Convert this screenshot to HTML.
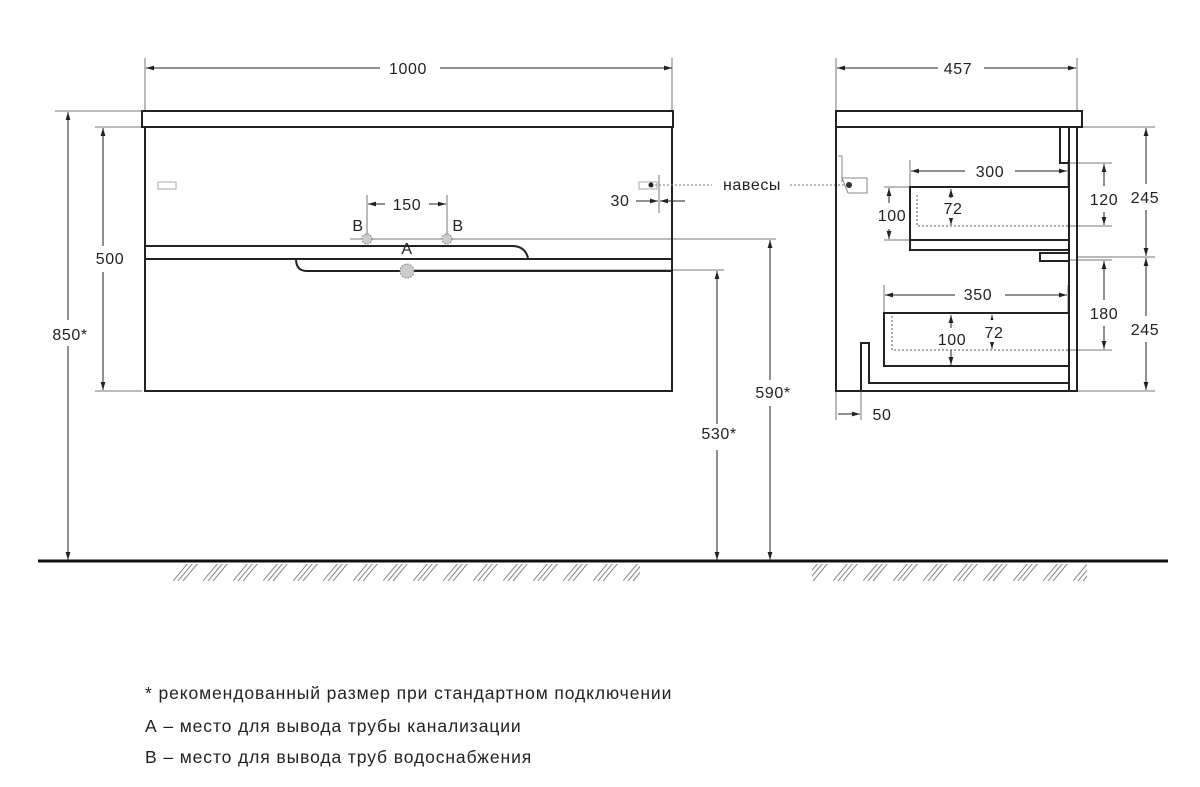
<!DOCTYPE html>
<html><head><meta charset="utf-8"><style>
html,body{margin:0;padding:0;background:#fff;}
svg{display:block;}
text{font-family:"Liberation Sans",sans-serif;fill:#222;}
</style></head><body>
<svg width="1200" height="787" viewBox="0 0 1200 787" xmlns="http://www.w3.org/2000/svg">
<defs>
<marker id="a" viewBox="0 0 10 10" refX="10" refY="5" markerWidth="8" markerHeight="8" orient="auto-start-reverse"><path d="M0,2 L10,5 L0,8z" fill="#222"/></marker>
<pattern id="h" x="173" y="563" width="30" height="18" patternUnits="userSpaceOnUse">
<path d="M15,0 L0,18 M20,0 L5,18 M25,0 L10,18" stroke="#888" stroke-width="1"/>
</pattern>
</defs>
<g fill="none" stroke="#777" stroke-width="1">
<path d="M145,58V111 M672,58V111 M836,58V111 M1077,58V111"/>
<path d="M55,111H142 M95,127H142 M95,391H142"/>
<path d="M350,239H776 M410,270H724"/>
<path d="M367,195V239 M447,195V239"/>
<path d="M659,175V213"/>
<path d="M1077,127H1155 M1077,257H1155 M1077,391H1155 M1070,163H1112 M1070,226H1112 M1070,260H1112 M1070,350H1112"/>
<path d="M884,187H910 M884,240H910"/>
<path d="M910,160V187 M1068,160V187 M884,285V313 M1068,285V313"/>
<path d="M836,391V420 M861,383V420"/>
</g>
<g fill="none" stroke="#222" stroke-width="1" marker-start="url(#a)" marker-end="url(#a)">
<path d="M146,68H672"/>
<path d="M68,112V560"/>
<path d="M103,128V390"/>
<path d="M770,240V560"/>
<path d="M717,271V560"/>
<path d="M368,204H446"/>
<path d="M837,68H1076"/>
<path d="M911,171H1067"/>
<path d="M885,295H1067"/>
<path d="M889,188V239"/>
<path d="M951,189V225"/>
<path d="M1104,164V225"/>
<path d="M1146,128V256"/>
<path d="M1146,258V390"/>
<path d="M1104,261V349"/>
<path d="M951,315V365"/>
<path d="M992,315V349"/>
</g>
<g fill="none" stroke="#222" stroke-width="1" marker-end="url(#a)">
<path d="M636,201H658"/><path d="M685,201H660"/>
<path d="M838,414H860"/>
</g>
<g fill="#fff">
<rect x="380" y="58" width="60" height="20"/><rect x="938" y="58" width="46" height="20"/>
<rect x="385" y="194" width="44" height="20"/><rect x="58" y="320" width="44" height="26"/>
<rect x="90" y="246" width="40" height="26"/><rect x="750" y="380" width="50" height="26"/>
<rect x="697" y="424" width="46" height="26"/>
<rect x="965" y="161" width="50" height="20"/><rect x="955" y="285" width="50" height="20"/>
<rect x="1088" y="186" width="34" height="26"/><rect x="1126" y="184" width="38" height="26"/>
<rect x="1126" y="316" width="38" height="26"/><rect x="1088" y="300" width="34" height="26"/>
<rect x="875" y="203" width="34" height="26"/><rect x="940" y="198" width="26" height="20"/>
<rect x="934" y="328" width="36" height="22"/><rect x="983" y="320" width="24" height="22"/>
</g>
<g fill="none" stroke="#222" stroke-width="2">
<rect x="142" y="111" width="531" height="16"/>
<rect x="145" y="127" width="527" height="264"/>
<path d="M145,246H512Q525,246 528,258"/>
<path d="M145,259H672"/>
<path d="M296,259Q296,271 307,271H672"/>
</g>
<g stroke="#777" stroke-dasharray="1.5,1.5" fill="#ccc">
<circle cx="367" cy="239" r="5"/><circle cx="447" cy="239" r="5"/><circle cx="407" cy="271" r="7"/>
</g>
<g fill="none" stroke="#aaa">
<rect x="158" y="182" width="18" height="7"/><rect x="639" y="182" width="18" height="7"/>
</g>
<circle cx="651" cy="185" r="2.5" fill="#222"/>
<path d="M655,185H712 M790,185H848" stroke="#777" stroke-dasharray="2,2"/>
<g fill="none" stroke="#222" stroke-width="2">
<rect x="836" y="111" width="246" height="16"/>
<path d="M836,127V391H1077V127"/>
<path d="M1069,127V391"/>
<path d="M1060,127V163H1069"/>
<path d="M1068,187H910V250H1068"/>
<path d="M1068,240H910"/>
<path d="M1068,253H1040V261H1068"/>
<path d="M1068,313H884V366H1068"/>
<path d="M1068,383H869V343H861V391"/>
</g>
<g fill="none" stroke="#555" stroke-dasharray="2,2">
<path d="M1068,226H917V195"/><path d="M1068,350H892V315"/>
</g>
<g fill="none" stroke="#888">
<path d="M838,156H842V182 M842,178H867V193H848z"/>
</g>
<circle cx="849" cy="185" r="3" fill="#333"/>
<path d="M38,561H1168" stroke="#111" stroke-width="3"/>
<rect x="170" y="564" width="470" height="17" fill="url(#h)"/>
<rect x="812" y="564" width="275" height="17" fill="url(#h)"/>
<g font-size="16" letter-spacing="0.6">
<text x="408" y="74" text-anchor="middle">1000</text>
<text x="958" y="74" text-anchor="middle">457</text>
<text x="407" y="210" text-anchor="middle">150</text>
<text x="358" y="231" text-anchor="middle">B</text>
<text x="458" y="231" text-anchor="middle">B</text>
<text x="407" y="254" text-anchor="middle">A</text>
<text x="620" y="206" text-anchor="middle">30</text>
<text x="752" y="190" text-anchor="middle">навесы</text>
<text x="110" y="264" text-anchor="middle">500</text>
<text x="70" y="340" text-anchor="middle">850*</text>
<text x="773" y="398" text-anchor="middle">590*</text>
<text x="719" y="439" text-anchor="middle">530*</text>
<text x="990" y="177" text-anchor="middle">300</text>
<text x="978" y="300" text-anchor="middle">350</text>
<text x="892" y="221" text-anchor="middle">100</text>
<text x="953" y="214" text-anchor="middle">72</text>
<text x="1104" y="205" text-anchor="middle">120</text>
<text x="1145" y="203" text-anchor="middle">245</text>
<text x="1104" y="319" text-anchor="middle">180</text>
<text x="1145" y="335" text-anchor="middle">245</text>
<text x="952" y="345" text-anchor="middle">100</text>
<text x="994" y="338" text-anchor="middle">72</text>
<text x="882" y="420" text-anchor="middle">50</text>
</g>
<g font-size="17.5" letter-spacing="0.9">
<text x="145" y="699">* рекомендованный размер при стандартном подключении</text>
<text x="145" y="732">А – место для вывода трубы канализации</text>
<text x="145" y="763">В – место для вывода труб водоснабжения</text>
</g>
</svg>
</body></html>
